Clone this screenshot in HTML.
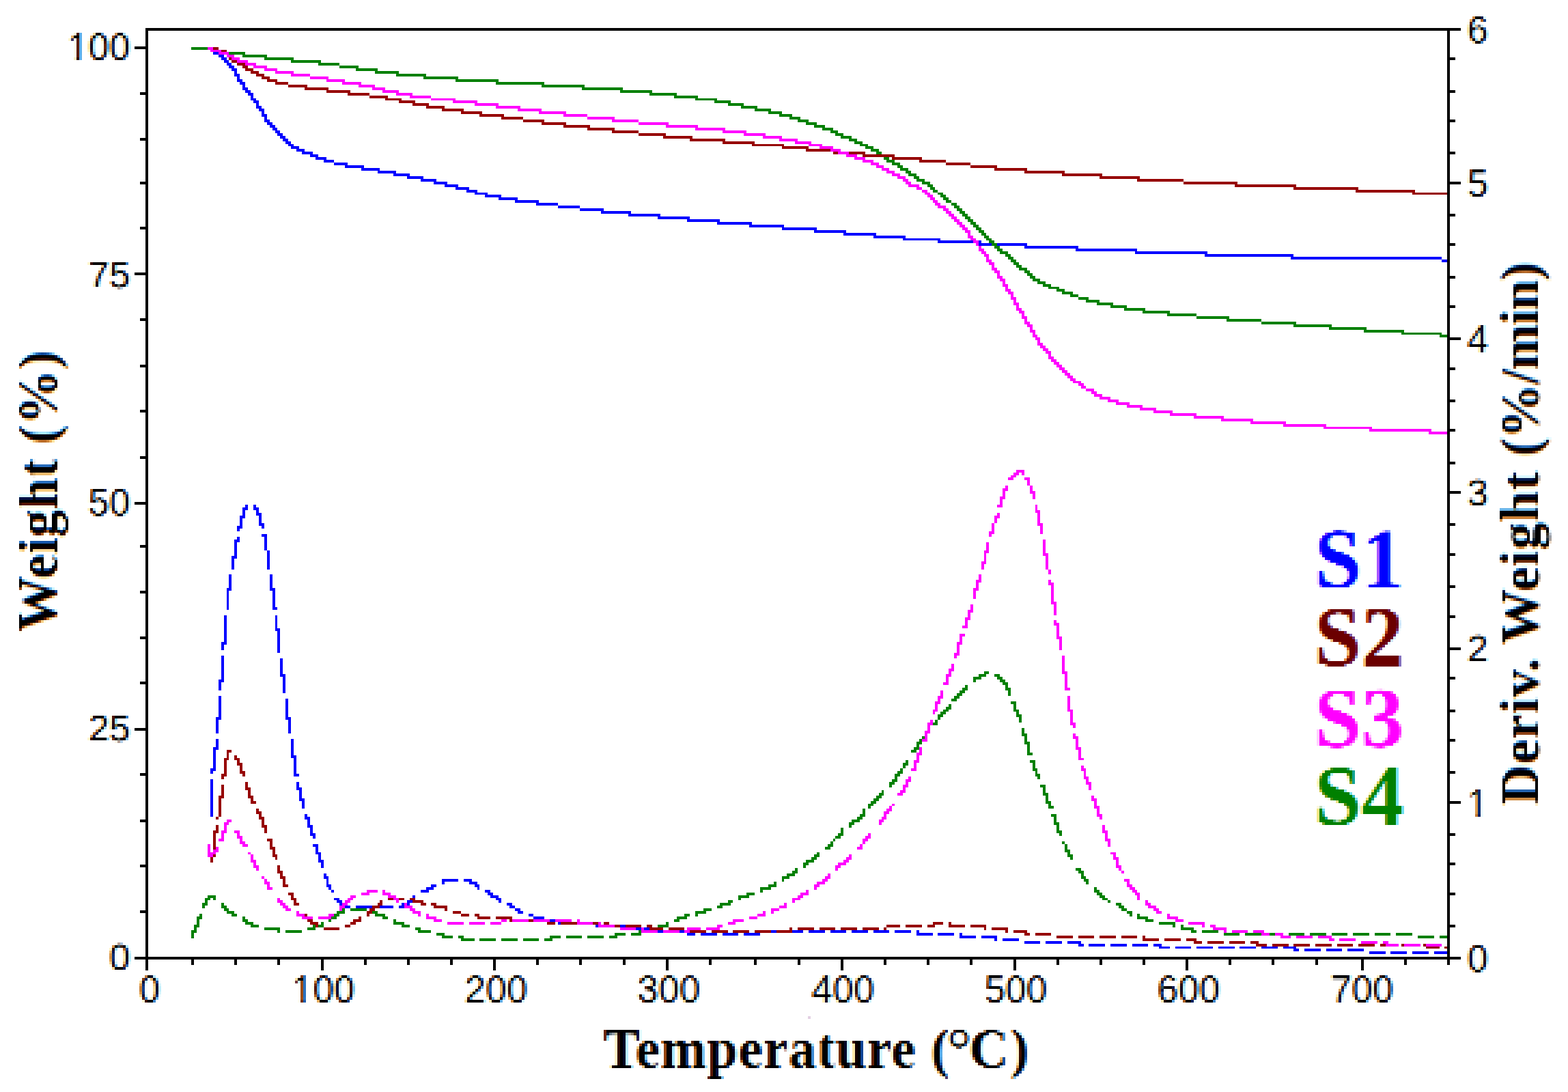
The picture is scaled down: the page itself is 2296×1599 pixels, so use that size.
<!DOCTYPE html>
<html lang="en"><head><meta charset="utf-8"><title>TGA / DTG curves</title>
<style>
html,body{margin:0;padding:0;background:#fff;}
body{width:2296px;height:1599px;overflow:hidden;}
svg{display:block;}
</style></head>
<body>
<svg width="2296" height="1599" viewBox="0 0 2296 1599">
<defs>
<filter id="ctH" filterUnits="userSpaceOnUse" x="0" y="0" width="2296" height="1599" color-interpolation-filters="sRGB">
<feGaussianBlur in="SourceGraphic" stdDeviation="1.2 0.5" result="s"/>
<feColorMatrix in="s" type="matrix" values="1 0 0 0 0  0 0 0 0 1  0 0 0 0 1  0 0 0 1 0" result="r"/>
<feOffset in="r" dx="1.33" dy="0" result="ro"/>
<feColorMatrix in="s" type="matrix" values="0 0 0 0 1  0 1 0 0 0  0 0 0 0 1  0 0 0 1 0" result="g"/>
<feColorMatrix in="s" type="matrix" values="0 0 0 0 1  0 0 0 0 1  0 0 1 0 0  0 0 0 1 0" result="b"/>
<feOffset in="b" dx="-1.33" dy="0" result="bo"/>
<feBlend in="ro" in2="g" mode="multiply" result="rg"/>
<feBlend in="rg" in2="bo" mode="multiply" result="rgb"/>
<feFlood x="2" y="2" width="1" height="1" flood-color="#000" result="f"/>
<feComposite in="f" in2="f" operator="over" width="4" height="4" result="t"/>
<feTile in="t" result="grid"/>
<feFlood x="0" y="0" width="1" height="4" flood-color="#000" result="fc"/>
<feComposite in="fc" in2="fc" operator="over" width="4" height="4" result="tc"/>
<feTile in="tc" result="mcol"/>
<feFlood x="0" y="0" width="4" height="1" flood-color="#000" result="fr"/>
<feComposite in="fr" in2="fr" operator="over" width="4" height="4" result="tr"/>
<feTile in="tr" result="mrow"/>
<feComposite in="rgb" in2="grid" operator="in" result="smp"/>
<feMorphology in="smp" operator="dilate" radius="1" result="d3"/>
<feOffset in="d3" dx="-1" dy="0" result="d3x"/>
<feComposite in="d3x" in2="mcol" operator="in" result="d3c"/>
<feMerge result="d4x"><feMergeNode in="d3"/><feMergeNode in="d3c"/></feMerge>
<feOffset in="d4x" dx="0" dy="-1" result="d4y"/>
<feComposite in="d4y" in2="mrow" operator="in" result="d4r"/>
<feMerge><feMergeNode in="d4x"/><feMergeNode in="d4r"/></feMerge>
</filter>
<filter id="ctV" filterUnits="userSpaceOnUse" x="0" y="0" width="2296" height="1599" color-interpolation-filters="sRGB">
<feGaussianBlur in="SourceGraphic" stdDeviation="0.5 1.2" result="s"/>
<feColorMatrix in="s" type="matrix" values="1 0 0 0 0  0 0 0 0 1  0 0 0 0 1  0 0 0 1 0" result="r"/>
<feOffset in="r" dx="0" dy="-1.33" result="ro"/>
<feColorMatrix in="s" type="matrix" values="0 0 0 0 1  0 1 0 0 0  0 0 0 0 1  0 0 0 1 0" result="g"/>
<feColorMatrix in="s" type="matrix" values="0 0 0 0 1  0 0 0 0 1  0 0 1 0 0  0 0 0 1 0" result="b"/>
<feOffset in="b" dx="0" dy="1.33" result="bo"/>
<feBlend in="ro" in2="g" mode="multiply" result="rg"/>
<feBlend in="rg" in2="bo" mode="multiply" result="rgb"/>
<feFlood x="2" y="2" width="1" height="1" flood-color="#000" result="f"/>
<feComposite in="f" in2="f" operator="over" width="4" height="4" result="t"/>
<feTile in="t" result="grid"/>
<feFlood x="0" y="0" width="1" height="4" flood-color="#000" result="fc"/>
<feComposite in="fc" in2="fc" operator="over" width="4" height="4" result="tc"/>
<feTile in="tc" result="mcol"/>
<feFlood x="0" y="0" width="4" height="1" flood-color="#000" result="fr"/>
<feComposite in="fr" in2="fr" operator="over" width="4" height="4" result="tr"/>
<feTile in="tr" result="mrow"/>
<feComposite in="rgb" in2="grid" operator="in" result="smp"/>
<feMorphology in="smp" operator="dilate" radius="1" result="d3"/>
<feOffset in="d3" dx="-1" dy="0" result="d3x"/>
<feComposite in="d3x" in2="mcol" operator="in" result="d3c"/>
<feMerge result="d4x"><feMergeNode in="d3"/><feMergeNode in="d3c"/></feMerge>
<feOffset in="d4x" dx="0" dy="-1" result="d4y"/>
<feComposite in="d4y" in2="mrow" operator="in" result="d4r"/>
<feMerge><feMergeNode in="d4x"/><feMergeNode in="d4r"/></feMerge>
</filter>
</defs>
<rect width="2296" height="1599" fill="#fff"/>
<g shape-rendering="crispEdges">
<path fill="#0000ff" d="M304 69h8v4h-8zM308 73h8v3h-8zM312 76h12v4h-12zM320 80h8v4h-8zM324 84h8v4h-8zM328 88h7v4h-7zM332 92h7v4h-7zM335 96h8v4h-8zM339 100h8v4h-8zM343 104h4v4h-4zM343 108h8v4h-8zM347 112h4v4h-4zM347 116h8v4h-8zM351 120h8v4h-8zM355 124h4v4h-4zM355 128h8v4h-8zM359 132h8v4h-8zM363 136h8v4h-8zM367 140h4v4h-4zM367 144h8v3h-8zM371 147h8v4h-8zM375 151h4v4h-4zM375 155h8v4h-8zM379 159h8v4h-8zM383 163h4v4h-4zM383 167h8v4h-8zM387 171h4v4h-4zM387 175h8v4h-8zM391 179h8v4h-8zM395 183h8v4h-8zM399 187h7v4h-7zM403 191h7v4h-7zM406 195h8v4h-8zM410 199h8v4h-8zM414 203h8v4h-8zM418 207h8v4h-8zM422 211h8v3h-8zM426 214h12v4h-12zM434 218h12v4h-12zM442 222h16v4h-16zM454 226h12v4h-12zM462 230h16v4h-16zM474 234h15v4h-15zM489 238h20v4h-20zM505 242h28v4h-28zM529 246h27v4h-27zM553 250h27v4h-27zM576 254h24v4h-24zM596 258h24v4h-24zM616 262h23v4h-23zM635 266h20v4h-20zM651 270h20v4h-20zM667 274h20v4h-20zM683 278h16v4h-16zM695 282h19v3h-19zM710 285h24v4h-24zM730 289h28v4h-28zM754 293h35v4h-35zM785 297h32v4h-32zM817 301h32v4h-32zM849 305h35v4h-35zM880 309h44v4h-44zM920 313h47v4h-47zM963 317h47v4h-47zM1006 321h48v4h-48zM1050 325h51v4h-51zM1097 329h51v4h-51zM1145 333h51v4h-51zM1192 337h47v4h-47zM1235 341h48v4h-48zM1279 345h47v4h-47zM1322 349h55v3h-55zM1373 352h64v4h-64zM1433 356h71v4h-71zM1500 360h79v4h-79zM1575 364h90v4h-90zM1662 368h106v4h-106zM1764 372h130v4h-130zM1890 376h221v4h-221zM2111 380h8v4h-8z"/>
<path fill="#008000" d="M280 69h32v4h-32zM308 73h24v3h-24zM328 76h31v4h-31zM355 80h36v4h-36zM387 84h43v4h-43zM426 88h44v4h-44zM466 92h31v4h-31zM497 96h28v4h-28zM521 100h32v4h-32zM549 104h35v4h-35zM580 108h44v4h-44zM620 112h51v4h-51zM667 116h63v4h-63zM726 120h71v4h-71zM793 124h63v4h-63zM852 128h60v4h-60zM908 132h47v4h-47zM951 136h40v4h-40zM987 140h35v4h-35zM1018 144h32v3h-32zM1046 147h24v4h-24zM1066 151h23v4h-23zM1085 155h24v4h-24zM1105 159h24v4h-24zM1125 163h20v4h-20zM1141 167h19v4h-19zM1156 171h16v4h-16zM1168 175h16v4h-16zM1180 179h16v4h-16zM1192 183h16v4h-16zM1204 187h16v4h-16zM1216 191h11v4h-11zM1223 195h12v4h-12zM1231 199h16v4h-16zM1243 203h12v4h-12zM1251 207h12v4h-12zM1259 211h12v3h-12zM1267 214h12v4h-12zM1275 218h12v4h-12zM1283 222h8v4h-8zM1291 226h3v4h-3zM1294 230h8v4h-8zM1298 234h12v4h-12zM1306 238h12v4h-12zM1314 242h8v4h-8zM1318 246h12v4h-12zM1326 250h8v4h-8zM1330 254h12v4h-12zM1338 258h8v4h-8zM1342 262h12v4h-12zM1350 266h12v4h-12zM1358 270h8v4h-8zM1362 274h7v4h-7zM1366 278h7v4h-7zM1373 282h8v3h-8zM1377 285h8v4h-8zM1381 289h8v4h-8zM1385 293h8v4h-8zM1393 297h8v4h-8zM1397 301h8v4h-8zM1401 305h8v4h-8zM1405 309h8v4h-8zM1409 313h8v4h-8zM1413 317h8v4h-8zM1417 321h8v4h-8zM1421 325h8v4h-8zM1425 329h8v4h-8zM1429 333h8v4h-8zM1433 337h8v4h-8zM1437 341h7v4h-7zM1441 345h7v4h-7zM1444 349h8v3h-8zM1448 352h8v4h-8zM1452 356h8v4h-8zM1456 360h8v4h-8zM1460 364h8v4h-8zM1464 368h12v4h-12zM1472 372h8v4h-8zM1476 376h8v4h-8zM1480 380h8v4h-8zM1484 384h8v4h-8zM1488 388h8v4h-8zM1492 392h12v4h-12zM1500 396h8v4h-8zM1504 400h8v4h-8zM1508 404h8v4h-8zM1512 408h11v4h-11zM1519 412h12v4h-12zM1527 416h12v4h-12zM1535 420h16v3h-16zM1547 423h12v4h-12zM1555 427h16v4h-16zM1567 431h12v4h-12zM1579 435h15v4h-15zM1590 439h20v4h-20zM1606 443h24v4h-24zM1626 447h24v4h-24zM1646 451h31v4h-31zM1673 455h40v4h-40zM1709 459h43v4h-43zM1752 463h48v4h-48zM1796 467h51v4h-51zM1847 471h51v4h-51zM1894 475h56v4h-56zM1946 479h55v4h-55zM1997 483h59v4h-59zM2052 487h59v3h-59zM2108 490h11v4h-11z"/>
<path fill="#960000" d="M304 69h16v4h-16zM320 73h12v3h-12zM328 76h7v4h-7zM332 80h7v4h-7zM335 84h8v4h-8zM339 88h12v4h-12zM347 92h12v4h-12zM355 96h8v4h-8zM359 100h12v4h-12zM367 104h12v4h-12zM375 108h12v4h-12zM383 112h12v4h-12zM391 116h15v4h-15zM403 120h19v4h-19zM422 124h28v4h-28zM446 128h35v4h-35zM478 132h35v4h-35zM509 136h32v4h-32zM541 140h27v4h-27zM564 144h24v3h-24zM584 147h24v4h-24zM604 151h24v4h-24zM624 155h27v4h-27zM647 159h32v4h-32zM675 163h31v4h-31zM702 167h36v4h-36zM734 171h32v4h-32zM766 175h31v4h-31zM793 179h36v4h-36zM825 183h39v4h-39zM860 187h40v4h-40zM896 191h39v4h-39zM935 195h40v4h-40zM971 199h43v4h-43zM1010 203h52v4h-52zM1058 207h47v4h-47zM1101 211h47v3h-47zM1145 214h39v4h-39zM1180 218h43v4h-43zM1220 222h47v4h-47zM1263 226h47v4h-47zM1306 230h44v4h-44zM1346 234h39v4h-39zM1385 238h36v4h-36zM1421 242h39v4h-39zM1456 246h48v4h-48zM1500 250h59v4h-59zM1555 254h59v4h-59zM1610 258h59v4h-59zM1665 262h68v4h-68zM1733 266h79v4h-79zM1808 270h90v4h-90zM1894 274h95v4h-95zM1985 278h87v4h-87zM2068 282h51v3h-51z"/>
<path fill="#ff00ff" d="M304 69h8v4h-8zM308 73h16v3h-16zM320 76h15v4h-15zM332 80h11v4h-11zM339 84h12v4h-12zM347 88h16v4h-16zM359 92h16v4h-16zM371 96h20v4h-20zM387 100h19v4h-19zM403 104h27v4h-27zM426 108h28v4h-28zM454 112h27v4h-27zM478 116h27v4h-27zM501 120h28v4h-28zM525 124h24v4h-24zM545 128h19v4h-19zM560 132h24v4h-24zM580 136h24v4h-24zM600 140h31v4h-31zM631 144h36v3h-36zM663 147h36v4h-36zM695 151h35v4h-35zM726 155h36v4h-36zM758 159h35v4h-35zM789 163h40v4h-40zM825 167h35v4h-35zM860 171h40v4h-40zM896 175h39v4h-39zM935 179h44v4h-44zM975 183h47v4h-47zM1018 187h44v4h-44zM1058 191h35v4h-35zM1089 195h32v4h-32zM1117 199h28v4h-28zM1141 203h27v4h-27zM1164 207h24v4h-24zM1184 211h20v3h-20zM1200 214h20v4h-20zM1216 218h15v4h-15zM1227 222h16v4h-16zM1239 226h16v4h-16zM1251 230h16v4h-16zM1263 234h16v4h-16zM1275 238h12v4h-12zM1283 242h11v4h-11zM1291 246h11v4h-11zM1298 250h12v4h-12zM1306 254h12v4h-12zM1314 258h12v4h-12zM1322 262h8v4h-8zM1326 266h8v4h-8zM1330 270h16v4h-16zM1342 274h8v4h-8zM1350 278h8v4h-8zM1354 282h8v3h-8zM1358 285h8v4h-8zM1362 289h7v4h-7zM1366 293h7v4h-7zM1369 297h8v4h-8zM1373 301h12v4h-12zM1381 305h8v4h-8zM1385 309h8v4h-8zM1389 313h8v4h-8zM1393 317h8v4h-8zM1397 321h8v4h-8zM1401 325h8v4h-8zM1405 329h8v4h-8zM1409 333h8v4h-8zM1413 337h8v4h-8zM1417 341h4v4h-4zM1417 345h8v4h-8zM1421 349h8v3h-8zM1425 352h8v4h-8zM1429 356h4v4h-4zM1433 360h4v4h-4zM1433 364h8v4h-8zM1437 368h7v4h-7zM1441 372h7v4h-7zM1444 376h4v4h-4zM1444 380h8v4h-8zM1448 384h8v4h-8zM1452 388h4v4h-4zM1452 392h8v4h-8zM1456 396h8v4h-8zM1460 400h4v4h-4zM1460 404h8v4h-8zM1464 408h8v4h-8zM1468 412h4v4h-4zM1468 416h8v4h-8zM1472 420h4v3h-4zM1472 423h8v4h-8zM1476 427h8v4h-8zM1480 431h4v4h-4zM1480 435h8v4h-8zM1484 439h4v4h-4zM1484 443h8v4h-8zM1488 447h4v4h-4zM1488 451h8v4h-8zM1492 455h8v4h-8zM1496 459h4v4h-4zM1496 463h8v4h-8zM1500 467h4v4h-4zM1500 471h8v4h-8zM1504 475h8v4h-8zM1508 479h4v4h-4zM1508 483h8v4h-8zM1512 487h4v3h-4zM1512 490h7v4h-7zM1516 494h7v4h-7zM1519 498h4v4h-4zM1519 502h8v4h-8zM1523 506h8v4h-8zM1527 510h8v4h-8zM1531 514h8v4h-8zM1535 518h4v4h-4zM1535 522h8v4h-8zM1539 526h8v4h-8zM1543 530h8v4h-8zM1547 534h8v4h-8zM1551 538h8v4h-8zM1555 542h8v4h-8zM1559 546h8v4h-8zM1563 550h8v4h-8zM1567 554h8v4h-8zM1571 558h12v3h-12zM1579 561h8v4h-8zM1583 565h7v4h-7zM1590 569h12v4h-12zM1598 573h8v4h-8zM1602 577h12v4h-12zM1610 581h16v4h-16zM1622 585h16v4h-16zM1634 589h20v4h-20zM1650 593h23v4h-23zM1669 597h24v4h-24zM1689 601h28v4h-28zM1713 605h39v4h-39zM1748 609h44v4h-44zM1788 613h47v4h-47zM1831 617h52v4h-52zM1879 621h63v4h-63zM1938 625h71v3h-71zM2005 628h91v4h-91zM2092 632h27v4h-27z"/>
<path fill="#0000ff" d="M308 1125h8v4h-8zM308 1129h4v4h-4zM308 1141h4v55h-4zM312 1094h8v4h-8zM312 1098h4v27h-4zM316 1050h8v4h-8zM316 1054h4v20h-4zM316 1082h4v12h-4zM320 995h8v4h-8zM320 999h4v12h-4zM320 1019h4v31h-4zM324 940h8v4h-8zM324 944h4v8h-4zM324 960h4v35h-4zM328 901h4v39h-4zM332 861h7v4h-7zM332 865h3v28h-3zM335 841h4v20h-4zM339 814h8v4h-8zM339 818h4v16h-4zM343 790h8v4h-8zM343 794h4v20h-4zM347 770h8v4h-8zM347 774h4v4h-4zM347 786h4v4h-4zM351 755h8v4h-8zM351 759h4v11h-4zM355 743h8v4h-8zM355 747h4v8h-4zM359 739h4v4h-4zM371 739h4v4h-4zM371 743h8v4h-8zM375 747h4v4h-4zM375 751h8v4h-8zM379 755h4v11h-4zM379 766h8v4h-8zM383 770h4v4h-4zM383 782h8v4h-8zM387 786h4v20h-4zM391 806h4v28h-4zM395 841h4v20h-4zM395 861h8v4h-8zM399 865h4v24h-4zM399 889h7v4h-7zM403 901h3v19h-3zM403 920h7v4h-7zM406 924h4v32h-4zM410 964h4v23h-4zM410 987h8v4h-8zM414 991h4v24h-4zM418 1023h4v27h-4zM418 1050h8v4h-8zM422 1054h4v20h-4zM426 1082h4v24h-4zM426 1106h8v4h-8zM430 1110h4v23h-4zM430 1133h8v4h-8zM434 1145h4v8h-4zM434 1153h8v4h-8zM438 1157h4v12h-4zM438 1169h8v4h-8zM442 1173h4v11h-4zM446 1192h4v4h-4zM446 1196h8v4h-8zM450 1200h4v8h-4zM450 1208h8v4h-8zM454 1212h4v8h-4zM454 1220h8v4h-8zM458 1224h4v4h-4zM458 1236h8v4h-8zM462 1240h4v8h-4zM462 1248h8v3h-8zM466 1251h4v8h-4zM466 1259h8v4h-8zM470 1263h4v8h-4zM474 1279h4v4h-4zM474 1283h7v4h-7zM478 1287h3v8h-3zM478 1295h7v4h-7zM481 1299h4v4h-4zM485 1303h4v4h-4zM489 1315h8v3h-8zM493 1318h8v4h-8zM497 1322h12v4h-12zM505 1326h8v4h-8zM521 1326h24v4h-24zM553 1326h23v4h-23zM584 1326h8v4h-8zM588 1322h12v4h-12zM596 1318h8v4h-8zM600 1315h8v3h-8zM604 1311h4v4h-4zM616 1303h12v4h-12zM624 1299h11v4h-11zM631 1295h8v4h-8zM647 1287h24v4h-24zM647 1291h4v4h-4zM679 1287h12v4h-12zM687 1291h12v4h-12zM695 1295h7v4h-7zM699 1299h3v4h-3zM710 1303h8v4h-8zM714 1307h8v4h-8zM718 1311h12v4h-12zM726 1315h8v3h-8zM730 1318h4v4h-4zM742 1322h8v4h-8zM746 1326h8v4h-8zM754 1330h8v4h-8zM758 1334h8v4h-8zM774 1338h7v4h-7zM781 1342h16v4h-16zM805 1346h16v4h-16zM817 1350h12v4h-12zM837 1350h23v4h-23zM868 1350h8v4h-8zM872 1354h20v4h-20zM900 1354h24v4h-24zM931 1358h24v4h-24zM963 1358h4v4h-4zM963 1362h24v4h-24zM995 1362h15v4h-15zM1006 1366h12v4h-12zM1026 1366h24v4h-24zM1058 1366h23v4h-23zM1089 1366h24v4h-24zM1121 1362h24v4h-24zM1152 1362h24v4h-24zM1184 1362h24v4h-24zM1216 1362h23v4h-23zM1247 1362h24v4h-24zM1279 1362h23v4h-23zM1310 1362h24v4h-24zM1342 1362h4v4h-4zM1342 1366h24v4h-24zM1373 1366h24v4h-24zM1405 1366h4v4h-4zM1405 1370h24v4h-24zM1437 1370h23v4h-23zM1456 1374h4v4h-4zM1468 1374h24v4h-24zM1500 1378h23v4h-23zM1531 1378h24v4h-24zM1563 1378h20v4h-20zM1579 1382h8v4h-8zM1594 1382h24v4h-24zM1626 1382h24v4h-24zM1658 1382h23v4h-23zM1689 1382h12v4h-12zM1697 1386h16v3h-16zM1721 1386h23v3h-23zM1752 1386h24v3h-24zM1784 1386h24v3h-24zM1815 1386h24v3h-24zM1847 1386h24v3h-24zM1879 1386h19v3h-19zM1894 1389h8v4h-8zM1910 1389h24v4h-24zM1942 1389h23v4h-23zM1973 1389h24v4h-24zM2005 1393h24v4h-24zM2036 1393h24v4h-24zM2068 1393h24v4h-24zM2100 1393h19v4h-19z"/>
<path fill="#008000" d="M280 1362h8v4h-8zM280 1366h4v8h-4zM284 1354h8v4h-8zM284 1358h4v4h-4zM288 1342h8v4h-8zM288 1346h4v8h-4zM292 1338h4v4h-4zM296 1322h8v4h-8zM296 1326h4v4h-4zM300 1315h8v3h-8zM300 1318h4v4h-4zM304 1311h12v4h-12zM312 1315h4v3h-4zM324 1322h4v4h-4zM324 1326h8v4h-8zM328 1330h7v4h-7zM332 1334h11v4h-11zM339 1338h8v4h-8zM355 1342h4v4h-4zM355 1346h8v4h-8zM359 1350h12v4h-12zM367 1354h12v4h-12zM387 1358h23v4h-23zM406 1362h4v4h-4zM418 1362h24v4h-24zM450 1358h12v4h-12zM458 1354h16v4h-16zM470 1350h4v4h-4zM481 1342h12v4h-12zM481 1346h4v4h-4zM489 1338h8v4h-8zM493 1334h12v4h-12zM501 1330h4v4h-4zM513 1330h24v4h-24zM545 1334h8v4h-8zM549 1338h15v4h-15zM560 1342h8v4h-8zM576 1346h4v4h-4zM576 1350h16v4h-16zM588 1354h12v4h-12zM608 1358h8v4h-8zM612 1362h19v4h-19zM639 1366h12v4h-12zM647 1370h16v4h-16zM671 1370h8v4h-8zM675 1374h20v4h-20zM702 1374h24v4h-24zM734 1374h24v4h-24zM766 1374h23v4h-23zM797 1374h12v4h-12zM805 1370h16v4h-16zM829 1370h23v4h-23zM860 1370h24v4h-24zM892 1370h12v4h-12zM900 1366h16v4h-16zM924 1366h15v4h-15zM935 1362h12v4h-12zM955 1358h12v4h-12zM963 1354h16v4h-16zM975 1350h4v4h-4zM987 1346h8v4h-8zM991 1342h15v4h-15zM1002 1338h8v4h-8zM1018 1334h16v4h-16zM1018 1338h4v4h-4zM1030 1330h12v4h-12zM1050 1326h8v4h-8zM1054 1322h16v4h-16zM1066 1318h7v4h-7zM1081 1311h16v4h-16zM1081 1315h4v3h-4zM1093 1307h12v4h-12zM1113 1299h16v4h-16zM1113 1303h4v4h-4zM1125 1295h12v4h-12zM1133 1291h4v4h-4zM1145 1283h11v4h-11zM1145 1287h3v4h-3zM1152 1279h12v4h-12zM1160 1275h8v4h-8zM1164 1271h4v4h-4zM1176 1263h8v4h-8zM1176 1267h4v4h-4zM1180 1259h12v4h-12zM1188 1255h8v4h-8zM1192 1251h8v4h-8zM1196 1248h4v3h-4zM1208 1240h8v4h-8zM1212 1236h8v4h-8zM1216 1232h4v4h-4zM1220 1228h3v4h-3zM1223 1224h8v4h-8zM1227 1220h8v4h-8zM1231 1212h4v8h-4zM1243 1204h8v4h-8zM1243 1208h4v4h-4zM1247 1200h12v4h-12zM1255 1196h8v4h-8zM1259 1192h8v4h-8zM1263 1184h4v8h-4zM1271 1177h8v3h-8zM1271 1180h4v4h-4zM1275 1173h8v4h-8zM1279 1169h8v4h-8zM1283 1165h8v4h-8zM1287 1161h7v4h-7zM1291 1157h3v4h-3zM1302 1145h8v4h-8zM1302 1149h4v4h-4zM1306 1141h8v4h-8zM1310 1133h8v4h-8zM1310 1137h4v4h-4zM1314 1129h8v4h-8zM1318 1125h4v4h-4zM1322 1117h8v4h-8zM1322 1121h4v4h-4zM1326 1113h4v4h-4zM1334 1098h8v4h-8zM1338 1094h8v4h-8zM1342 1086h8v4h-8zM1342 1090h4v4h-4zM1346 1082h8v4h-8zM1350 1078h4v4h-4zM1366 1058h7v4h-7zM1369 1054h4v4h-4zM1373 1046h8v4h-8zM1373 1050h4v4h-4zM1377 1042h8v4h-8zM1381 1039h8v3h-8zM1385 1035h8v4h-8zM1389 1031h4v4h-4zM1393 1023h8v4h-8zM1397 1019h8v4h-8zM1401 1015h8v4h-8zM1405 1011h8v4h-8zM1409 1007h8v4h-8zM1413 1003h4v4h-4zM1425 991h12v4h-12zM1425 995h4v4h-4zM1433 987h11v4h-11zM1441 983h7v4h-7zM1456 987h8v4h-8zM1460 991h8v4h-8zM1464 995h8v4h-8zM1468 999h8v4h-8zM1472 1003h4v4h-4zM1472 1007h8v4h-8zM1476 1011h4v8h-4zM1480 1027h8v4h-8zM1484 1031h4v8h-4zM1484 1039h8v3h-8zM1488 1042h4v4h-4zM1488 1046h8v4h-8zM1492 1050h4v8h-4zM1496 1066h4v8h-4zM1496 1074h8v4h-8zM1500 1078h4v8h-4zM1500 1086h8v4h-8zM1504 1090h4v12h-4zM1504 1102h8v4h-8zM1508 1113h8v4h-8zM1512 1117h4v8h-4zM1512 1125h7v4h-7zM1516 1129h3v4h-3zM1516 1133h7v4h-7zM1519 1137h4v4h-4zM1523 1149h8v4h-8zM1527 1153h4v8h-4zM1527 1161h8v4h-8zM1531 1165h4v8h-4zM1531 1173h8v4h-8zM1535 1177h4v3h-4zM1535 1180h8v4h-8zM1539 1192h8v4h-8zM1543 1196h4v8h-4zM1543 1204h8v4h-8zM1547 1208h4v8h-4zM1547 1216h8v4h-8zM1551 1220h4v4h-4zM1555 1232h4v4h-4zM1559 1236h4v8h-4zM1559 1244h8v4h-8zM1563 1248h4v3h-4zM1563 1251h8v4h-8zM1567 1255h4v4h-4zM1575 1271h8v4h-8zM1579 1275h8v4h-8zM1583 1279h4v4h-4zM1583 1283h7v4h-7zM1587 1287h7v4h-7zM1590 1291h4v4h-4zM1602 1299h4v4h-4zM1602 1303h8v4h-8zM1606 1307h8v4h-8zM1610 1311h8v4h-8zM1614 1315h8v3h-8zM1622 1318h4v4h-4zM1634 1322h8v4h-8zM1638 1326h8v4h-8zM1642 1330h8v4h-8zM1650 1334h8v4h-8zM1654 1338h4v4h-4zM1665 1338h4v4h-4zM1665 1342h16v4h-16zM1677 1346h12v4h-12zM1697 1350h24v4h-24zM1717 1354h4v4h-4zM1729 1354h4v4h-4zM1729 1358h19v4h-19zM1744 1362h8v4h-8zM1760 1362h24v4h-24zM1792 1366h23v4h-23zM1823 1366h24v4h-24zM1855 1366h24v4h-24zM1887 1366h23v4h-23zM1918 1366h24v4h-24zM1950 1366h23v4h-23zM1981 1366h24v4h-24zM2013 1366h23v4h-23zM2044 1366h24v4h-24zM2076 1370h24v4h-24zM2108 1370h11v4h-11z"/>
<path fill="#960000" d="M308 1251h8v4h-8zM308 1255h4v8h-4zM312 1216h8v4h-8zM312 1220h4v31h-4zM316 1196h4v4h-4zM316 1208h4v8h-4zM320 1165h8v4h-8zM320 1169h4v27h-4zM324 1133h8v4h-8zM324 1137h4v4h-4zM324 1149h4v16h-4zM328 1110h7v3h-7zM328 1113h4v20h-4zM332 1098h7v4h-7zM332 1102h3v8h-3zM343 1106h4v4h-4zM343 1110h8v3h-8zM347 1113h4v4h-4zM347 1117h8v4h-8zM351 1121h4v8h-4zM351 1129h8v4h-8zM355 1133h4v4h-4zM359 1145h4v8h-4zM359 1153h8v4h-8zM363 1157h4v8h-4zM363 1165h8v4h-8zM367 1169h4v4h-4zM367 1173h8v4h-8zM375 1184h4v4h-4zM375 1188h8v4h-8zM379 1192h4v4h-4zM379 1196h8v4h-8zM383 1200h4v8h-4zM383 1208h8v4h-8zM387 1212h4v8h-4zM391 1228h8v4h-8zM395 1232h4v8h-4zM395 1240h8v4h-8zM399 1244h4v7h-4zM399 1251h7v4h-7zM403 1255h3v4h-3zM406 1267h4v8h-4zM406 1275h8v4h-8zM410 1279h4v4h-4zM410 1283h8v4h-8zM414 1287h4v8h-4zM414 1295h8v4h-8zM422 1307h8v4h-8zM426 1311h4v4h-4zM426 1315h8v3h-8zM430 1318h4v4h-4zM430 1322h8v4h-8zM446 1338h4v4h-4zM446 1342h8v4h-8zM450 1346h8v4h-8zM454 1350h12v4h-12zM462 1354h4v4h-4zM474 1358h23v4h-23zM505 1354h8v4h-8zM513 1350h8v4h-8zM517 1346h12v4h-12zM525 1342h4v4h-4zM537 1334h8v4h-8zM537 1338h4v4h-4zM541 1330h8v4h-8zM545 1326h11v4h-11zM553 1322h7v4h-7zM556 1318h4v4h-4zM568 1315h24v3h-24zM600 1315h8v3h-8zM604 1318h16v4h-16zM616 1322h8v4h-8zM631 1322h8v4h-8zM635 1326h20v4h-20zM651 1330h4v4h-4zM663 1334h12v4h-12zM675 1338h12v4h-12zM695 1338h7v4h-7zM699 1342h19v4h-19zM726 1342h24v4h-24zM746 1346h4v4h-4zM758 1346h23v4h-23zM789 1346h16v4h-16zM801 1350h12v4h-12zM821 1350h24v4h-24zM852 1350h24v4h-24zM884 1350h8v4h-8zM892 1354h16v4h-16zM916 1354h23v4h-23zM947 1354h8v4h-8zM951 1358h20v4h-20zM979 1358h23v4h-23zM1010 1358h4v4h-4zM1010 1362h24v4h-24zM1042 1362h24v4h-24zM1073 1362h24v4h-24zM1105 1362h24v4h-24zM1137 1362h23v4h-23zM1156 1358h4v4h-4zM1168 1358h24v4h-24zM1200 1358h23v4h-23zM1231 1358h24v4h-24zM1263 1358h24v4h-24zM1294 1358h4v4h-4zM1298 1354h20v4h-20zM1326 1354h24v4h-24zM1358 1354h11v4h-11zM1366 1350h15v4h-15zM1389 1350h4v4h-4zM1389 1354h24v4h-24zM1421 1354h23v4h-23zM1441 1358h3v4h-3zM1452 1358h24v4h-24zM1472 1362h4v4h-4zM1484 1362h20v4h-20zM1500 1366h8v4h-8zM1516 1366h23v4h-23zM1547 1370h24v4h-24zM1579 1370h23v4h-23zM1610 1370h24v4h-24zM1642 1370h23v4h-23zM1673 1370h4v4h-4zM1673 1374h24v4h-24zM1705 1374h24v4h-24zM1737 1374h15v4h-15zM1748 1378h12v4h-12zM1768 1378h24v4h-24zM1800 1378h23v4h-23zM1831 1378h12v4h-12zM1839 1382h16v4h-16zM1863 1382h24v4h-24zM1894 1382h24v4h-24zM1926 1382h24v4h-24zM1958 1382h23v4h-23zM1989 1382h24v4h-24zM2021 1382h23v4h-23zM2052 1382h24v4h-24zM2084 1382h8v4h-8zM2088 1386h20v3h-20zM2115 1386h4v3h-4z"/>
<path fill="#ff00ff" d="M304 1236h4v12h-4zM304 1248h12v3h-12zM304 1251h8v4h-8zM312 1244h8v4h-8zM316 1240h4v4h-4zM320 1228h8v4h-8zM324 1216h8v4h-8zM324 1220h4v8h-4zM328 1204h7v4h-7zM328 1208h4v8h-4zM332 1200h7v4h-7zM343 1216h8v4h-8zM347 1220h4v4h-4zM347 1224h8v4h-8zM351 1228h4v4h-4zM351 1232h8v4h-8zM355 1236h8v4h-8zM363 1248h4v3h-4zM367 1251h4v8h-4zM367 1259h8v4h-8zM371 1263h4v4h-4zM371 1267h8v4h-8zM375 1271h4v4h-4zM383 1283h4v4h-4zM387 1287h4v4h-4zM387 1291h8v4h-8zM391 1295h4v4h-4zM391 1299h8v4h-8zM406 1315h4v3h-4zM406 1318h8v4h-8zM410 1322h8v4h-8zM414 1326h8v4h-8zM418 1330h8v4h-8zM434 1334h4v4h-4zM434 1338h12v4h-12zM442 1342h16v4h-16zM466 1342h19v4h-19zM481 1338h8v4h-8zM497 1326h8v4h-8zM497 1330h4v4h-4zM501 1322h8v4h-8zM505 1318h8v4h-8zM509 1315h8v3h-8zM513 1311h8v4h-8zM529 1307h12v4h-12zM537 1303h16v4h-16zM560 1303h4v4h-4zM560 1307h12v4h-12zM568 1311h12v4h-12zM576 1315h8v3h-8zM580 1318h4v4h-4zM592 1322h4v4h-4zM592 1326h12v4h-12zM600 1330h8v4h-8zM604 1334h12v4h-12zM612 1338h4v4h-4zM624 1338h4v4h-4zM624 1342h15v4h-15zM635 1346h12v4h-12zM655 1350h24v4h-24zM687 1350h23v4h-23zM718 1350h16v4h-16zM734 1346h8v4h-8zM750 1346h24v4h-24zM781 1346h24v4h-24zM813 1346h24v4h-24zM845 1346h4v4h-4zM845 1350h23v4h-23zM876 1350h4v4h-4zM876 1354h24v4h-24zM908 1358h23v4h-23zM939 1358h4v4h-4zM939 1362h24v4h-24zM971 1362h24v4h-24zM1002 1362h8v4h-8zM1006 1358h20v4h-20zM1034 1358h20v4h-20zM1050 1354h8v4h-8zM1066 1350h11v4h-11zM1073 1346h16v4h-16zM1097 1342h12v4h-12zM1109 1338h12v4h-12zM1117 1334h4v4h-4zM1129 1330h12v4h-12zM1129 1334h4v4h-4zM1141 1326h11v4h-11zM1148 1322h4v4h-4zM1160 1315h12v3h-12zM1160 1318h4v4h-4zM1168 1311h8v4h-8zM1172 1307h12v4h-12zM1180 1303h4v4h-4zM1192 1295h8v4h-8zM1192 1299h4v4h-4zM1196 1291h12v4h-12zM1204 1287h8v4h-8zM1208 1283h8v4h-8zM1212 1279h4v4h-4zM1223 1267h8v4h-8zM1223 1271h4v4h-4zM1227 1263h12v4h-12zM1235 1259h8v4h-8zM1239 1255h8v4h-8zM1243 1251h4v4h-4zM1255 1240h8v4h-8zM1259 1236h4v4h-4zM1263 1228h8v4h-8zM1263 1232h4v4h-4zM1267 1224h8v4h-8zM1271 1220h4v4h-4zM1287 1200h7v4h-7zM1287 1204h4v4h-4zM1291 1196h7v4h-7zM1294 1188h8v4h-8zM1294 1192h4v4h-4zM1298 1184h8v4h-8zM1302 1180h4v4h-4zM1306 1177h4v3h-4zM1314 1161h8v4h-8zM1318 1157h8v4h-8zM1322 1149h8v4h-8zM1322 1153h4v4h-4zM1326 1141h8v4h-8zM1326 1145h4v4h-4zM1330 1137h4v4h-4zM1334 1125h8v4h-8zM1338 1113h8v4h-8zM1338 1117h4v8h-4zM1342 1102h8v4h-8zM1342 1106h4v7h-4zM1346 1094h4v8h-4zM1350 1082h8v4h-8zM1354 1070h8v4h-8zM1354 1074h4v8h-4zM1358 1058h8v4h-8zM1358 1062h4v8h-4zM1362 1054h4v4h-4zM1366 1039h7v3h-7zM1366 1042h3v4h-3zM1369 1027h8v4h-8zM1369 1031h4v8h-4zM1373 1019h8v4h-8zM1373 1023h4v4h-4zM1377 1011h4v8h-4zM1381 999h8v4h-8zM1385 987h8v4h-8zM1385 991h4v8h-4zM1389 979h8v4h-8zM1389 983h4v4h-4zM1393 972h4v7h-4zM1397 956h8v4h-8zM1397 960h4v4h-4zM1401 940h8v4h-8zM1401 944h4v12h-4zM1405 928h8v4h-8zM1405 932h4v8h-4zM1409 916h8v4h-8zM1413 904h8v4h-8zM1413 908h4v8h-4zM1417 893h8v4h-8zM1417 897h4v7h-4zM1421 885h4v8h-4zM1425 861h8v4h-8zM1425 865h4v12h-4zM1429 849h8v4h-8zM1429 853h4v8h-4zM1433 841h4v8h-4zM1437 822h7v4h-7zM1437 826h4v8h-4zM1441 806h7v4h-7zM1441 810h3v12h-3zM1444 794h4v12h-4zM1448 778h8v4h-8zM1448 782h4v4h-4zM1452 766h4v12h-4zM1456 755h8v4h-8zM1456 759h4v7h-4zM1460 739h8v4h-8zM1460 751h4v4h-4zM1464 727h8v4h-8zM1464 731h4v8h-4zM1468 715h8v4h-8zM1468 719h4v8h-4zM1472 711h4v4h-4zM1476 699h8v4h-8zM1480 696h8v3h-8zM1484 692h8v4h-8zM1488 688h12v4h-12zM1496 692h4v4h-4zM1500 699h8v4h-8zM1504 703h4v8h-4zM1508 711h4v8h-4zM1508 719h8v4h-8zM1512 723h4v8h-4zM1516 739h3v8h-3zM1516 747h7v4h-7zM1519 751h4v15h-4zM1519 766h8v4h-8zM1523 770h4v12h-4zM1527 790h4v20h-4zM1527 810h8v4h-8zM1531 814h4v20h-4zM1535 834h4v7h-4zM1535 849h4v4h-4zM1535 853h8v4h-8zM1539 857h4v24h-4zM1539 881h8v4h-8zM1543 885h4v16h-4zM1543 908h4v4h-4zM1543 912h8v4h-8zM1547 916h4v16h-4zM1547 932h8v4h-8zM1551 936h4v16h-4zM1555 960h4v23h-4zM1555 983h8v4h-8zM1559 987h4v20h-4zM1559 1007h8v4h-8zM1563 1019h4v20h-4zM1563 1039h8v3h-8zM1567 1042h4v16h-4zM1567 1058h8v4h-8zM1571 1062h4v4h-4zM1571 1074h4v4h-4zM1571 1078h8v4h-8zM1575 1082h4v12h-4zM1575 1094h8v4h-8zM1579 1098h4v12h-4zM1579 1110h8v3h-8zM1583 1121h4v4h-4zM1583 1125h7v4h-7zM1587 1129h3v8h-3zM1587 1137h7v4h-7zM1590 1141h4v4h-4zM1590 1145h8v4h-8zM1594 1149h4v8h-4zM1598 1165h4v4h-4zM1598 1169h8v4h-8zM1602 1173h4v7h-4zM1602 1180h8v4h-8zM1606 1184h4v8h-4zM1606 1192h8v4h-8zM1610 1196h4v4h-4zM1614 1208h4v8h-4zM1614 1216h8v4h-8zM1618 1220h4v8h-4zM1618 1228h8v4h-8zM1622 1232h4v8h-4zM1626 1248h8v3h-8zM1630 1251h4v4h-4zM1630 1255h8v4h-8zM1634 1259h4v8h-4zM1634 1267h8v4h-8zM1638 1271h4v4h-4zM1642 1275h4v4h-4zM1646 1287h8v4h-8zM1650 1291h4v4h-4zM1650 1295h8v4h-8zM1654 1299h8v4h-8zM1658 1303h7v4h-7zM1662 1307h7v4h-7zM1665 1311h4v7h-4zM1677 1318h4v4h-4zM1677 1322h8v4h-8zM1681 1326h12v4h-12zM1689 1330h8v4h-8zM1693 1334h8v4h-8zM1709 1338h4v4h-4zM1709 1342h16v4h-16zM1721 1346h12v4h-12zM1740 1350h24v4h-24zM1760 1354h4v4h-4zM1772 1354h8v4h-8zM1776 1358h20v4h-20zM1792 1362h4v4h-4zM1804 1362h23v4h-23zM1835 1362h16v4h-16zM1847 1366h12v4h-12zM1867 1366h12v4h-12zM1875 1370h15v4h-15zM1898 1370h24v4h-24zM1930 1370h20v4h-20zM1946 1374h8v4h-8zM1961 1374h24v4h-24zM1993 1378h24v4h-24zM2025 1378h8v4h-8zM2029 1382h19v4h-19zM2056 1382h24v4h-24zM2088 1382h23v4h-23z"/>
<rect x="213" y="41" width="4" height="1380" fill="#000"/>
<rect x="2119" y="41" width="4" height="1372" fill="#000"/>
<rect x="213" y="41" width="1926" height="4" fill="#000"/>
<rect x="197" y="1401" width="1942" height="4" fill="#000"/>
<rect x="280" y="1401" width="4" height="12" fill="#000"/>
<rect x="343" y="1401" width="4" height="12" fill="#000"/>
<rect x="406" y="1401" width="4" height="12" fill="#000"/>
<rect x="470" y="1401" width="4" height="20" fill="#000"/>
<rect x="533" y="1401" width="4" height="12" fill="#000"/>
<rect x="596" y="1401" width="4" height="12" fill="#000"/>
<rect x="659" y="1401" width="4" height="12" fill="#000"/>
<rect x="722" y="1401" width="4" height="20" fill="#000"/>
<rect x="785" y="1401" width="4" height="12" fill="#000"/>
<rect x="848" y="1401" width="4" height="12" fill="#000"/>
<rect x="912" y="1401" width="4" height="12" fill="#000"/>
<rect x="975" y="1401" width="4" height="20" fill="#000"/>
<rect x="1038" y="1401" width="4" height="12" fill="#000"/>
<rect x="1104" y="1401" width="4" height="12" fill="#000"/>
<rect x="1168" y="1401" width="4" height="12" fill="#000"/>
<rect x="1231" y="1401" width="4" height="20" fill="#000"/>
<rect x="1294" y="1401" width="4" height="12" fill="#000"/>
<rect x="1357" y="1401" width="4" height="12" fill="#000"/>
<rect x="1420" y="1401" width="4" height="12" fill="#000"/>
<rect x="1484" y="1401" width="4" height="20" fill="#000"/>
<rect x="1547" y="1401" width="4" height="12" fill="#000"/>
<rect x="1610" y="1401" width="4" height="12" fill="#000"/>
<rect x="1673" y="1401" width="4" height="12" fill="#000"/>
<rect x="1736" y="1401" width="4" height="20" fill="#000"/>
<rect x="1799" y="1401" width="4" height="12" fill="#000"/>
<rect x="1862" y="1401" width="4" height="12" fill="#000"/>
<rect x="1926" y="1401" width="4" height="12" fill="#000"/>
<rect x="1993" y="1401" width="4" height="20" fill="#000"/>
<rect x="2056" y="1401" width="4" height="12" fill="#000"/>
<rect x="197" y="68" width="16" height="4" fill="#000"/>
<rect x="205" y="135" width="8" height="4" fill="#000"/>
<rect x="205" y="202" width="8" height="4" fill="#000"/>
<rect x="205" y="266" width="8" height="4" fill="#000"/>
<rect x="205" y="332" width="8" height="4" fill="#000"/>
<rect x="197" y="399" width="16" height="4" fill="#000"/>
<rect x="205" y="466" width="8" height="4" fill="#000"/>
<rect x="205" y="534" width="8" height="4" fill="#000"/>
<rect x="205" y="600" width="8" height="4" fill="#000"/>
<rect x="205" y="668" width="8" height="4" fill="#000"/>
<rect x="197" y="735" width="16" height="4" fill="#000"/>
<rect x="205" y="798" width="8" height="4" fill="#000"/>
<rect x="205" y="865" width="8" height="4" fill="#000"/>
<rect x="205" y="932" width="8" height="4" fill="#000"/>
<rect x="205" y="998" width="8" height="4" fill="#000"/>
<rect x="197" y="1066" width="16" height="4" fill="#000"/>
<rect x="205" y="1132" width="8" height="4" fill="#000"/>
<rect x="205" y="1200" width="8" height="4" fill="#000"/>
<rect x="205" y="1266" width="8" height="4" fill="#000"/>
<rect x="205" y="1333" width="8" height="4" fill="#000"/>
<rect x="2123" y="84" width="8" height="4" fill="#000"/>
<rect x="2123" y="132" width="8" height="4" fill="#000"/>
<rect x="2123" y="175" width="8" height="4" fill="#000"/>
<rect x="2123" y="222" width="8" height="4" fill="#000"/>
<rect x="2123" y="266" width="16" height="4" fill="#000"/>
<rect x="2123" y="313" width="8" height="4" fill="#000"/>
<rect x="2123" y="356" width="8" height="4" fill="#000"/>
<rect x="2123" y="404" width="8" height="4" fill="#000"/>
<rect x="2123" y="447" width="8" height="4" fill="#000"/>
<rect x="2123" y="494" width="16" height="4" fill="#000"/>
<rect x="2123" y="538" width="8" height="4" fill="#000"/>
<rect x="2123" y="585" width="8" height="4" fill="#000"/>
<rect x="2123" y="628" width="8" height="4" fill="#000"/>
<rect x="2123" y="676" width="8" height="4" fill="#000"/>
<rect x="2123" y="719" width="16" height="4" fill="#000"/>
<rect x="2123" y="766" width="8" height="4" fill="#000"/>
<rect x="2123" y="810" width="8" height="4" fill="#000"/>
<rect x="2123" y="857" width="8" height="4" fill="#000"/>
<rect x="2123" y="901" width="8" height="4" fill="#000"/>
<rect x="2123" y="948" width="16" height="4" fill="#000"/>
<rect x="2123" y="991" width="8" height="4" fill="#000"/>
<rect x="2123" y="1039" width="8" height="4" fill="#000"/>
<rect x="2123" y="1082" width="8" height="4" fill="#000"/>
<rect x="2123" y="1129" width="8" height="4" fill="#000"/>
<rect x="2123" y="1173" width="16" height="4" fill="#000"/>
<rect x="2123" y="1220" width="8" height="4" fill="#000"/>
<rect x="2123" y="1263" width="8" height="4" fill="#000"/>
<rect x="2123" y="1307" width="8" height="4" fill="#000"/>
<rect x="2123" y="1354" width="8" height="4" fill="#000"/>
<rect x="1183" y="1488" width="4" height="4" fill="#e3d0e3"/>
</g>
<g id="labels-h" filter="url(#ctH)">
<text x="219.5" y="1468" font-family="Liberation Sans, Arial, sans-serif" font-size="55" fill="#000" text-anchor="middle">0</text>
<text x="474" y="1468" font-family="Liberation Sans, Arial, sans-serif" font-size="55" fill="#000" text-anchor="middle">100</text>
<text x="727" y="1468" font-family="Liberation Sans, Arial, sans-serif" font-size="55" fill="#000" text-anchor="middle">200</text>
<text x="980" y="1468" font-family="Liberation Sans, Arial, sans-serif" font-size="55" fill="#000" text-anchor="middle">300</text>
<text x="1235" y="1468" font-family="Liberation Sans, Arial, sans-serif" font-size="55" fill="#000" text-anchor="middle">400</text>
<text x="1488" y="1468" font-family="Liberation Sans, Arial, sans-serif" font-size="55" fill="#000" text-anchor="middle">500</text>
<text x="1741" y="1468" font-family="Liberation Sans, Arial, sans-serif" font-size="55" fill="#000" text-anchor="middle">600</text>
<text x="1995" y="1468" font-family="Liberation Sans, Arial, sans-serif" font-size="55" fill="#000" text-anchor="middle">700</text>
<text x="191" y="88.3" font-family="Liberation Sans, Arial, sans-serif" font-size="55" fill="#000" text-anchor="end">100</text>
<text x="191" y="421.5" font-family="Liberation Sans, Arial, sans-serif" font-size="55" fill="#000" text-anchor="end">75</text>
<text x="191" y="754.8" font-family="Liberation Sans, Arial, sans-serif" font-size="55" fill="#000" text-anchor="end">50</text>
<text x="191" y="1086" font-family="Liberation Sans, Arial, sans-serif" font-size="55" fill="#000" text-anchor="end">25</text>
<text x="191" y="1421" font-family="Liberation Sans, Arial, sans-serif" font-size="55" fill="#000" text-anchor="end">0</text>
<text x="2149" y="63" font-family="Liberation Sans, Arial, sans-serif" font-size="55" fill="#000">6</text>
<text x="2149" y="287.5" font-family="Liberation Sans, Arial, sans-serif" font-size="55" fill="#000">5</text>
<text x="2149" y="516.25" font-family="Liberation Sans, Arial, sans-serif" font-size="55" fill="#000">4</text>
<text x="2149" y="741.3" font-family="Liberation Sans, Arial, sans-serif" font-size="55" fill="#000">3</text>
<text x="2149" y="969.1" font-family="Liberation Sans, Arial, sans-serif" font-size="55" fill="#000">2</text>
<text x="2149" y="1194.6" font-family="Liberation Sans, Arial, sans-serif" font-size="55" fill="#000">1</text>
<text x="2149" y="1423" font-family="Liberation Sans, Arial, sans-serif" font-size="55" fill="#000">0</text>
<text y="1562.8" font-family="Liberation Serif, Times New Roman, serif" font-weight="bold" font-size="80" fill="#000"><tspan x="884" textLength="457" lengthAdjust="spacing">Temperature</tspan> <tspan x="1377" text-anchor="middle">(</tspan><tspan x="1405" dy="5" text-anchor="middle" font-size="90" font-weight="normal">°</tspan><tspan x="1448.5" dy="-5" text-anchor="middle">C</tspan><tspan x="1493.5" text-anchor="middle">)</tspan></text>
<text x="1990.6" y="861" font-family="Liberation Serif, Times New Roman, serif" font-weight="bold" font-size="124" fill="#0000ff" text-anchor="middle">S1</text>
<text x="1990.6" y="974.8" font-family="Liberation Serif, Times New Roman, serif" font-weight="bold" font-size="124" fill="#6b0000" text-anchor="middle">S2</text>
<text x="1990.6" y="1093.5" font-family="Liberation Serif, Times New Roman, serif" font-weight="bold" font-size="124" fill="#ff00ff" text-anchor="middle">S3</text>
<text x="1990.6" y="1208.3" font-family="Liberation Serif, Times New Roman, serif" font-weight="bold" font-size="124" fill="#008000" text-anchor="middle">S4</text>
<rect x="430" y="1462.5" width="11.4" height="7" fill="#fff"/>
<rect x="446.9" y="1462.5" width="11.1" height="7" fill="#fff"/>
<rect x="102" y="82.5" width="10.4" height="7" fill="#fff"/>
<rect x="117.9" y="82.5" width="10.1" height="7" fill="#fff"/>
<rect x="2151" y="1188.5" width="11.4" height="7" fill="#fff"/>
<rect x="2167.9" y="1188.5" width="10.1" height="7" fill="#fff"/>
</g>
<g id="labels-v" filter="url(#ctV)">
<text transform="translate(82.5 925) rotate(-90)" font-family="Liberation Serif, Times New Roman, serif" font-weight="bold" font-size="80" fill="#000" textLength="411" lengthAdjust="spacing">Weight (%)</text>
<text transform="translate(2253.4 1178.5) rotate(-90)" font-family="Liberation Serif, Times New Roman, serif" font-weight="bold" font-size="80" fill="#000"><tspan x="0" textLength="214" lengthAdjust="spacing">Deriv.</tspan> <tspan x="235" textLength="252" lengthAdjust="spacing">Weight</tspan> <tspan x="510" textLength="284" lengthAdjust="spacing">(%/min)</tspan></text>
</g>
</svg>
</body></html>
